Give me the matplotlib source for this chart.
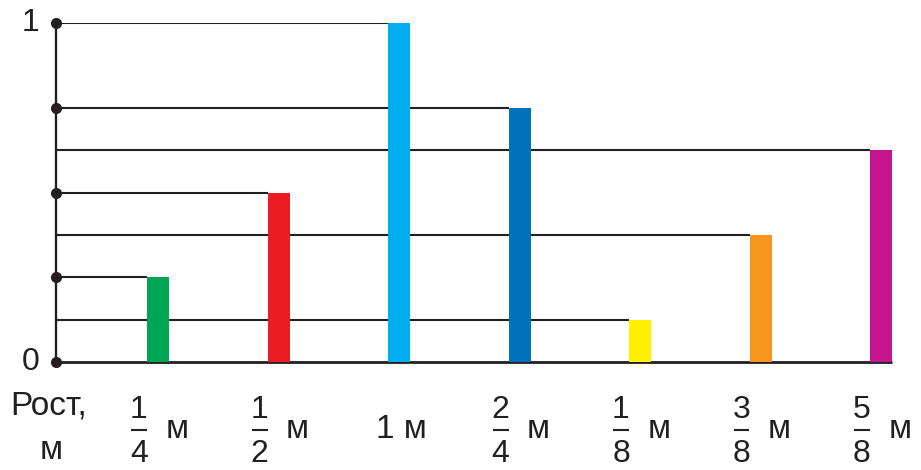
import matplotlib
matplotlib.use("Agg")
import matplotlib.pyplot as plt

plt.rcParams['font.family'] = ['Liberation Sans', 'DejaVu Sans']

# heights of the bars (m), in the order shown
heights = [1/4, 1/2, 1, 3/4, 1/8, 3/8, 5/8]
numerators = ['1', '1', None, '2', '1', '3', '5']
denominators = ['4', '2', None, '4', '8', '8', '8']
colors = ['#00A651', '#ED1C24', '#00AEEF', '#0072BC', '#FFF200', '#F7941D', '#C6168D']
dot_ticks = [0, 0.25, 0.5, 0.75, 1]

ink = '#231F20'
W, H = 921, 470
fig = plt.figure(figsize=(W / 100, H / 100), dpi=100)
# axes placed so that the y axis is at x=56px, zero at y=362px, one at y=23px
ax = fig.add_axes([56 / W, (H - 362) / H, (W - 56) / W, 339 / H])
step = 120.5
x0 = -(158 - 56) / step
ax.set_xlim(x0, x0 + (W - 56) / step)
ax.set_ylim(0, 1)
ax.axis('off')

bw = 22 / step
xs = list(range(len(heights)))

# guide lines from axis to each bar
for x, h in zip(xs, heights):
    ax.plot([x0, x - bw / 2], [h, h], color=ink, lw=1.5, zorder=1, solid_capstyle='butt')

ax.bar(xs, heights, width=bw, color=colors, zorder=3)

# axes lines
ax.plot([x0, x0], [0, 1], color=ink, lw=1.7, zorder=2, clip_on=False)
ax.plot([x0, xs[-1] + bw / 2], [0, 0], color=ink, lw=2, zorder=2, clip_on=False,
        solid_capstyle='butt')
ax.plot([x0] * len(dot_ticks), dot_ticks, 'o', color=ink, ms=7, zorder=4, clip_on=False)

fd = 23   # digits
ft = 24   # words
ax.text(x0 - 25 / step, 1, '1', ha='center', va='center', fontsize=fd, color=ink, clip_on=False)
ax.text(x0 - 25 / step, 0, '0', ha='center', va='center', fontsize=fd, color=ink, clip_on=False)

ax.text(x0 - 7 / step, -0.13, 'Рост,', ha='center', va='center', fontsize=ft, color=ink)
ax.text(x0 - 5 / step, -0.262, 'м', ha='center', va='center', fontsize=ft, color=ink)

for x, n, d in zip(xs, numerators, denominators):
    if n is None:
        ax.text(x + 2 / step, -0.2, '1 м', ha='center', va='center', fontsize=ft, color=ink)
        continue
    fx = x - 19 / step
    ax.text(fx, -0.143, n, ha='center', va='center', fontsize=fd, color=ink)
    ax.plot([fx - 8 / step, fx + 8 / step], [-0.2, -0.2], color=ink, lw=1.5,
            clip_on=False, solid_capstyle='butt')
    ax.text(fx, -0.272, d, ha='center', va='center', fontsize=fd, color=ink)
    ax.text(x + 19 / step, -0.2, 'м', ha='center', va='center', fontsize=ft, color=ink)

fig.savefig('out.png', dpi=100)
